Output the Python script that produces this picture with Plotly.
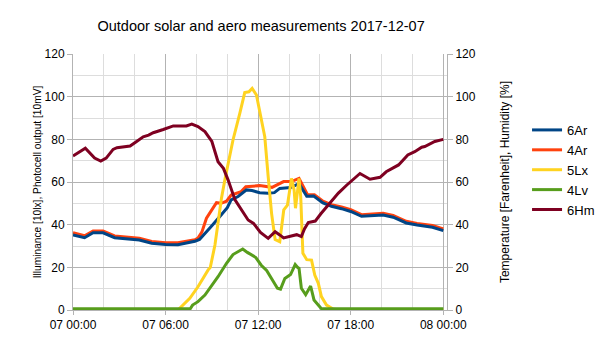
import pandas as pd
import plotly.graph_objects as go

# ---- data (hours after 2017-12-07 00:00, values) ----
t_6ar = [0, 0.75, 1.3, 1.95, 2.7, 3.5, 4.3, 5.1, 6.0, 6.8, 7.25, 7.9, 8.2, 8.65, 9.0, 9.6, 10.0, 10.25,
         10.7, 11.25, 11.6, 12.1, 12.65, 13.05, 13.4, 14.1, 14.65, 15.15, 15.6, 16.2, 16.75, 17.4, 18.0,
         18.7, 19.3, 20.1, 20.75, 21.6, 22.3, 22.7, 23.3, 24]
v_6ar = [35.2, 33.9, 36.2, 36.2, 33.9, 33.3, 32.8, 31.3, 30.7, 30.6, 31.4, 32.2, 33.1, 37.0, 39.5, 44.5, 48.0, 51.6,
         53.2, 56.3, 56.0, 55.0, 54.7, 55.0, 57.0, 57.4, 59.2, 53.3, 53.4, 50.2, 48.6, 47.5, 46.2,
         43.9, 44.3, 44.5, 43.5, 40.8, 39.8, 39.3, 38.8, 37.2]

t_4ar = [0, 0.75, 1.3, 1.95, 2.7, 3.5, 4.3, 5.1, 6.0, 6.8, 7.25, 7.9, 8.1, 8.35, 8.65, 9.1, 9.3, 9.6, 9.95,
         10.25, 10.9, 11.2, 12.1, 12.9, 13.4, 13.65, 14.15, 14.65, 15.2, 15.65, 16.2, 16.75, 17.4, 18.0,
         18.7, 19.3, 20.1, 20.75, 21.6, 22.3, 22.7, 23.3, 24]
v_4ar = [36.2, 34.8, 37.0, 37.0, 34.7, 34.2, 33.6, 32.1, 31.5, 31.5, 32.2, 32.9, 33.7, 36.5, 43.0, 48.4, 50.3, 50.0, 51.0,
         53.9, 55.5, 57.8, 58.3, 57.5, 59.4, 60.2, 60.2, 61.7, 54.0, 54.0, 51.0, 49.4, 48.3, 47.0,
         44.7, 45.1, 45.3, 44.3, 41.6, 40.6, 40.1, 39.6, 38.0]

t_5lx = [0, 6.8, 7.57, 8.1, 8.75, 8.9, 9.2, 9.4, 9.62, 9.84, 10.37, 10.81, 11.13, 11.4, 11.61, 11.89, 12.2,
         12.43, 12.65, 12.87, 13.1, 13.4, 13.66, 13.9, 14.16, 14.33, 14.42, 14.55, 14.65, 14.76, 14.9,
         15.15, 15.46, 15.67, 15.9, 16.1, 16.43, 16.86, 17.2, 24]
v_5lx = [0, 0, 5.5, 10.9, 18.7, 20.0, 30.5, 40.6, 52.3, 60.9, 79.7, 92.2, 101.9, 102.3, 103.9, 100.8, 88.5,
         81.2, 62.5, 45.3, 33.0, 32.0, 46.9, 49.2, 61.7, 56.3, 47.7, 54.7, 61.7, 53.0, 26.6,
         23.6, 23.4, 16.4, 12.5, 6.3, 2.3, 0.5, 0, 0]

t_4lv = [0, 7.6, 7.75, 8.1, 8.55, 8.9, 9.4, 9.95, 10.37, 11.0, 11.3, 11.85, 12.2, 12.55, 12.97, 13.25,
         13.45, 13.73, 14.1, 14.4, 14.55, 14.65, 14.8, 15.08, 15.4, 15.62, 16.1, 24]
v_4lv = [0.6, 0.6, 2.3, 3.9, 7.0, 10.5, 15.6, 21.9, 26.0, 28.6, 27.0, 24.6, 21.0, 18.5, 13.3, 10.2,
         9.8, 14.8, 16.6, 21.3, 20.0, 19.5, 10.2, 7.2, 11.25, 4.7, 0.6, 0.6]

t_6hm = [0, 0.8, 1.4, 1.8, 2.15, 2.6, 2.85, 3.7, 4.1, 4.55, 4.9, 5.2, 5.85, 6.5, 7.35, 7.7, 8.1, 8.55,
         9.0, 9.2, 9.4, 9.75, 10.05, 10.5, 10.9, 11.35, 11.7, 12.15, 12.65, 13.1, 13.4, 13.65, 14.15,
         14.5, 14.8, 15.0, 15.25, 15.7, 16.05, 16.45, 16.8, 17.2, 17.75, 18.3, 18.6, 19.25, 19.9, 20.3,
         21.1, 21.7, 22.15, 22.6, 22.8, 23.45, 24]
v_6hm = [72.2, 75.8, 71.2, 69.8, 71.2, 75.3, 76.1, 76.9, 78.9, 81.2, 82.0, 83.1, 84.6, 86.3, 86.3, 87.1, 86.0, 83.6,
         79.0, 73.6, 69.5, 66.4, 61.0, 51.6, 46.9, 42.2, 40.6, 36.4, 33.6, 36.7, 35.2, 33.8, 34.7,
         35.3, 34.4, 38.0, 41.0, 41.7, 45.0, 48.5, 51.6, 54.8, 58.6, 62.2, 64.0, 61.3, 62.2, 64.8,
         68.0, 72.7, 74.2, 76.3, 76.6, 79.0, 80.0]

names = ["6Ar", "4Ar", "5Lx", "4Lv", "6Hm"]
colors = ["#004586", "#ff420e", "#ffd320", "#579d1c", "#7e0021"]

title_text = "Outdoor solar and aero measurements 2017-12-07"
left_title = "Illuminance [10lx], Photocell output [10mV]"
right_title = "Temperature [Farenheit], Humidity [%]"

base = pd.Timestamp("2017-12-07 00:00")


def to_time(hours):
    return [base + pd.Timedelta(hours=h) for h in hours]


series = {
    "6Ar": (t_6ar, v_6ar),
    "4Ar": (t_4ar, v_4ar),
    "5Lx": (t_5lx, v_5lx),
    "4Lv": (t_4lv, v_4lv),
    "6Hm": (t_6hm, v_6hm),
}

fig = go.Figure()
draw_order = ["4Ar", "6Ar", "5Lx", "4Lv", "6Hm"]
for nm in draw_order:
    i = names.index(nm)
    tt, vv = series[nm]
    fig.add_trace(go.Scatter(
        x=to_time(tt), y=vv, name=nm, mode="lines",
        line=dict(color=colors[i], width=3),
        legendrank=i + 1,
        cliponaxis=False,
        yaxis="y2" if nm == "6Hm" else "y",
    ))

FONT = "Liberation Sans, Arial, sans-serif"
grid_major = "#b3b3b3"
grid_minor = "#dddddd"

fig.update_layout(
    width=605, height=340,
    margin=dict(l=73, r=158, t=54, b=30, autoexpand=False),
    paper_bgcolor="white", plot_bgcolor="white",
    font=dict(family=FONT, color="#000000", size=12),
    title=dict(text=title_text, font=dict(size=14.5, family=FONT, color="#000000"),
               x=0.503, xanchor="center", xref="paper",
               y=1 - 26 / 340, yanchor="middle", yref="container"),
    showlegend=True,
    legend=dict(x=1.214, xanchor="left", y=0.547, yanchor="middle",
                font=dict(size=13, family=FONT, color="#000000"),
                bgcolor="rgba(0,0,0,0)", borderwidth=0),
    xaxis=dict(
        type="date", automargin=False,
        range=[base, base + pd.Timedelta(hours=24.24)],
        tick0=base, dtick=6 * 3600000, tickformat="%d %H:%M",
        ticks="outside", ticklen=4, tickcolor=grid_major,
        showline=True, linecolor=grid_major, linewidth=1,
        showgrid=True, gridcolor=grid_major, gridwidth=1,
        zeroline=False,
        minor=dict(dtick=2 * 3600000, tick0=base, showgrid=True, gridcolor=grid_minor, ticks=""),
        tickfont=dict(size=12, family=FONT, color="#000000"),
    ),
    yaxis=dict(
        automargin=False,
        range=[0, 120], dtick=20, tick0=0,
        ticks="outside", ticklen=5, tickcolor=grid_major,
        showline=True, linecolor=grid_major, linewidth=1,
        showgrid=True, gridcolor=grid_major, gridwidth=1,
        zeroline=False,
        minor=dict(dtick=10, showgrid=True, gridcolor=grid_minor, ticks=""),
        tickfont=dict(size=12, family=FONT, color="#000000"),
        title=dict(text=left_title, font=dict(size=10.2, family=FONT, color="#000000"), standoff=0),
    ),
    yaxis2=dict(
        automargin=False,
        overlaying="y", side="right",
        range=[0, 120], dtick=20, tick0=0,
        ticks="outside", ticklen=5, tickcolor=grid_major,
        showline=True, linecolor=grid_major, linewidth=1,
        showgrid=False, zeroline=False,
        tickfont=dict(size=12, family=FONT, color="#000000"),
        title=dict(text=right_title, font=dict(size=12, family=FONT, color="#000000"), standoff=25),
    ),
)

fig.write_html("out.html")
